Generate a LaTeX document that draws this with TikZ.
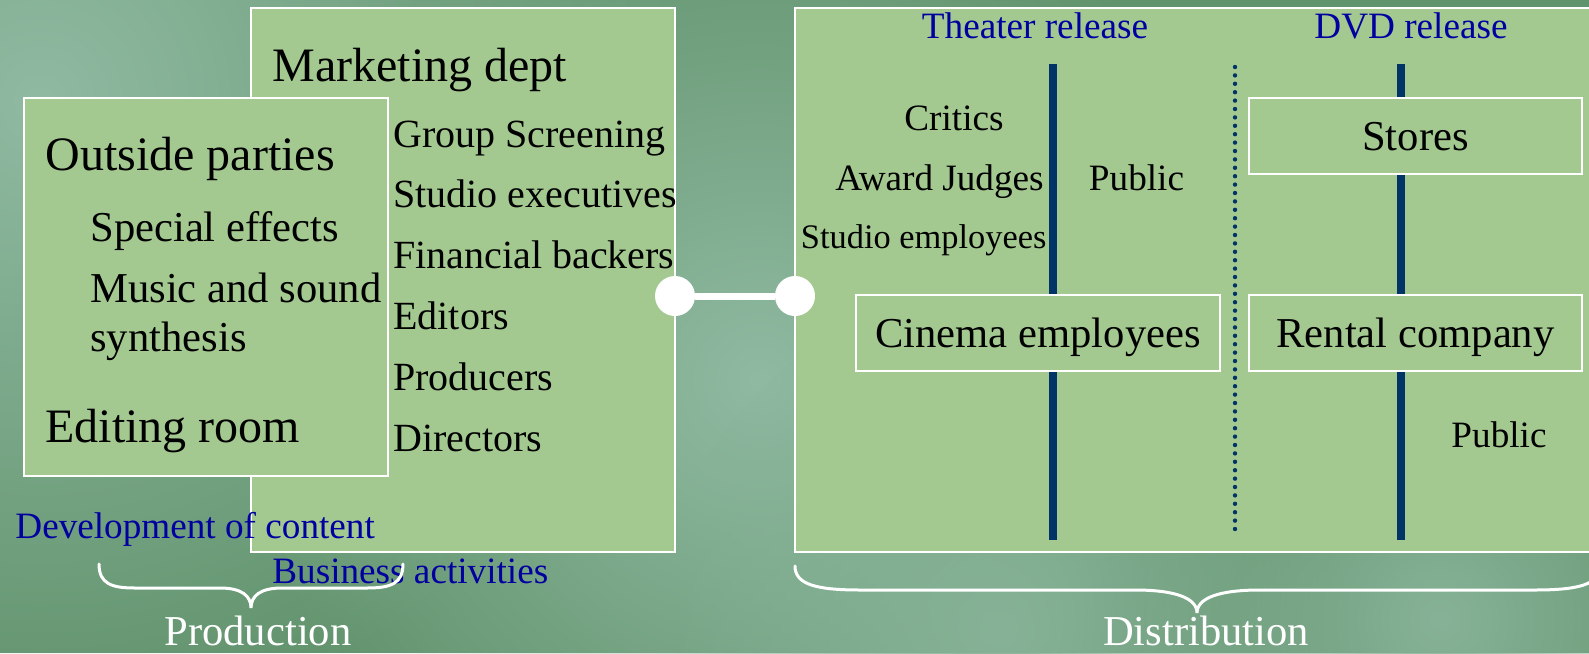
\documentclass[tikz,border=0pt]{standalone}
\usepackage{fontspec}
\setmainfont{Liberation Serif}
\usetikzlibrary{fadings}

\definecolor{bgbase}{HTML}{61936C}
\definecolor{bglight}{HTML}{90BAA2}
\definecolor{boxgreen}{HTML}{A3C990}
\definecolor{titleblue}{RGB}{0,0,160}
\definecolor{stemblue}{HTML}{003366}

\tikzfading[name=softblob, inner color=transparent!0, outer color=transparent!100]

\tikzset{
  box/.style={draw=white, line width=1.3pt, fill=boxgreen, inner sep=0pt},
  cell/.style={box, mid, minimum height=38pt, text height=18pt, text depth=4pt},
  label/.style={anchor=base west, inner sep=0pt},
  ctext/.style={anchor=base, inner sep=0pt},
  big/.style={font=\fontsize{24}{28}\selectfont},
  mid/.style={font=\fontsize{21.3}{25}\selectfont},
  lst/.style={font=\fontsize{20}{24}\selectfont},
  sml/.style={font=\fontsize{18.6}{22}\selectfont},
  blue/.style={sml, text=titleblue},
  stem/.style={stemblue, line width=4pt},
  joint/.style={circle, fill=white, minimum size=20pt, inner sep=0pt},
  brace/.style={white, line width=1.5pt, line cap=round}
}

\begin{document}
\begin{tikzpicture}[x=0.5pt, y=-0.5pt]
    % Page frame and background
    \clip (0,0) rectangle (1589,653);
    \fill[bgbase] (0,0) rectangle (1589,653);
    \fill[bglight, path fading=softblob] (40,100) circle (320pt);
    \fill[bglight, path fading=softblob] (760,380) circle (260pt);
    \fill[bglight!80!bgbase, path fading=softblob] (1000,630) circle (170pt);
    \fill[bglight!80!bgbase, path fading=softblob] (1440,620) circle (160pt);

    % Production boxes
    \node[box, minimum width=212pt, minimum height=272pt] (mkt) at (463,280) {};
    \node[box, minimum width=182pt, minimum height=189pt] (outside) at (206,287) {};

    % Distribution box
    \node[box, minimum width=412.5pt, minimum height=272pt] (dist) at (1207.5,280) {};

    % Release columns
    \draw[stem] (1053,64) -- (1053,540);
    \draw[stem] (1401,64) -- (1401,540);
    \draw[stemblue, line width=2.2pt, line cap=round, dash pattern=on 0pt off 4.2pt] (1235,67) -- (1235,532);

    % Boxes on the columns
    \node[cell, minimum width=182pt] (cinema) at (1038,333) {Cinema employees};
    \node[cell, minimum width=166.5pt] (stores) at (1415.5,136) {Stores};
    \node[cell, minimum width=166.5pt] (rental) at (1415.5,333) {Rental company};

    % Marketing dept texts
    \node[label, big] (mdept) at (272,81) {Marketing dept};
    \foreach \t [count=\i] in {Group Screening, Studio executives, Financial backers, Editors, Producers, Directors}
        \node[label, lst] (m\i) at (393,147+60.8*\i-60.8) {\t};

    % Outside parties texts
    \node[label, big] (oparties) at (45,170) {Outside parties};
    \node[label, mid] (sfx) at (90,241) {Special effects};
    \node[label, mid] (music) at (90,302) {Music and sound};
    \node[label, mid] (synth) at (90,351) {synthesis};
    \node[label, big] (edit) at (45,442) {Editing room};

    % Blue captions
    \node[label, blue] (devc) at (15,538) {Development of content};
    \node[label, blue] (busa) at (272,583) {Business activities};
    \node[ctext, blue] (theater) at (1035,38) {Theater release};
    \node[ctext, blue] (dvd) at (1411,38) {DVD release};

    % Theater release viewers
    \node[ctext, sml] (critics) at (954,130) {Critics};
    \node[ctext, sml] (judges) at (939.5,190.5) {Award Judges};
    \node[ctext, font=\fontsize{17.2}{20}\selectfont] (semp) at (923.7,248) {Studio employees};
    \node[ctext, sml] (pub1) at (1136.5,190.5) {Public};
    \node[ctext, sml] (pub2) at (1499,447) {Public};

    % Link between the two halves
    \node[joint] (jl) at (675,296) {};
    \node[joint] (jr) at (795,296) {};
    \draw[white, line width=3.5pt] (jl) -- (jr);

    % Braces
    \draw[brace] (99,564) .. controls (99,584) and (112,588) .. (135,588) -- (220,588)
        .. controls (242,588) and (251,596) .. (251,608)
        .. controls (251,596) and (260,588) .. (282,588) -- (367,588)
        .. controls (390,588) and (403,584) .. (403,564);
    \draw[brace] (795,566) .. controls (795,584) and (815,590) .. (860,590) -- (1135,590)
        .. controls (1175,590) and (1197,598) .. (1197,613)
        .. controls (1197,598) and (1219,590) .. (1260,590) -- (1535,590)
        .. controls (1580,590) and (1600,584) .. (1600,566);
    \node[ctext, mid, text=white] (prod) at (258,645) {Production};
    \node[ctext, mid, text=white] (distr) at (1206,645) {Distribution};
\end{tikzpicture}
\end{document}
